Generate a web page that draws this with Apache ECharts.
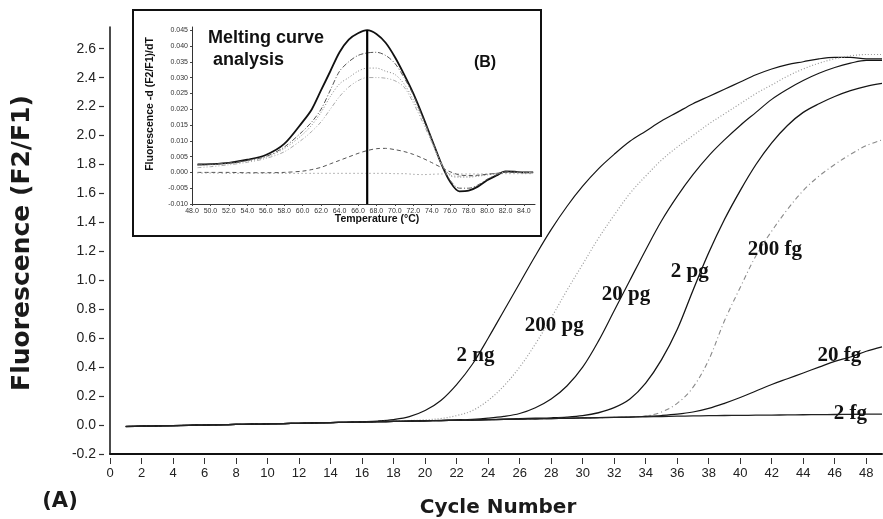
<!DOCTYPE html>
<html><head><meta charset="utf-8">
<script src="https://cdn.jsdelivr.net/npm/echarts@6/dist/echarts.min.js"></script>
<style>html,body{margin:0;padding:0;background:#fff}#c{width:883px;height:519px}</style>
</head><body><div id="c"></div><script>
// ---------- main amplification plot data ----------
const cycles = [1,2,3,4,5,6,7,8,9,10,11,12,13,14,15,16,17,18,19,20,21,22,23,24,25,26,27,28,29,30,31,32,33,34,35,36,37,38,39,40,41,42,43,44,45,46,47,48,49];
const s2ng  = [-0.010,-0.008,-0.006,-0.004,-0.002,0.000,0.002,0.004,0.006,0.008,0.010,0.012,0.015,0.017,0.019,0.023,0.028,0.038,0.058,0.10,0.17,0.28,0.42,0.60,0.79,0.98,1.17,1.35,1.51,1.65,1.77,1.87,1.96,2.03,2.10,2.16,2.22,2.27,2.32,2.37,2.42,2.46,2.49,2.51,2.53,2.54,2.54,2.53,2.53];
const s200pg= [-0.010,-0.008,-0.006,-0.004,-0.002,0.000,0.002,0.004,0.006,0.008,0.010,0.012,0.015,0.017,0.019,0.021,0.024,0.027,0.031,0.036,0.045,0.065,0.10,0.17,0.27,0.40,0.56,0.74,0.93,1.11,1.29,1.45,1.60,1.72,1.83,1.92,2.00,2.08,2.15,2.22,2.29,2.35,2.41,2.46,2.50,2.53,2.55,2.56,2.56];
const s20pg = [-0.010,-0.008,-0.006,-0.004,-0.002,0.000,0.002,0.004,0.006,0.008,0.010,0.012,0.015,0.017,0.019,0.021,0.023,0.025,0.027,0.030,0.033,0.036,0.040,0.048,0.06,0.08,0.12,0.18,0.27,0.40,0.58,0.79,1.00,1.21,1.41,1.58,1.73,1.86,1.97,2.07,2.16,2.25,2.32,2.38,2.43,2.47,2.50,2.52,2.52];
const s2pg  = [-0.010,-0.008,-0.006,-0.004,-0.002,0.000,0.002,0.004,0.006,0.008,0.010,0.012,0.015,0.017,0.019,0.021,0.023,0.025,0.027,0.029,0.031,0.033,0.035,0.038,0.041,0.044,0.047,0.050,0.055,0.065,0.085,0.12,0.18,0.29,0.45,0.66,0.93,1.19,1.42,1.62,1.80,1.95,2.07,2.16,2.22,2.27,2.31,2.34,2.36];
const s200fg= [-0.010,-0.008,-0.006,-0.004,-0.002,0.000,0.002,0.004,0.006,0.008,0.010,0.012,0.015,0.017,0.019,0.021,0.023,0.025,0.027,0.029,0.031,0.033,0.035,0.037,0.039,0.041,0.043,0.045,0.047,0.049,0.051,0.053,0.056,0.062,0.09,0.15,0.26,0.45,0.72,0.95,1.17,1.34,1.49,1.62,1.72,1.80,1.87,1.93,1.97];
const s20fg = [-0.010,-0.008,-0.006,-0.004,-0.002,0.000,0.002,0.004,0.006,0.008,0.010,0.012,0.015,0.017,0.019,0.021,0.023,0.025,0.027,0.029,0.031,0.033,0.035,0.037,0.039,0.041,0.043,0.045,0.047,0.049,0.051,0.053,0.055,0.060,0.066,0.075,0.09,0.115,0.15,0.19,0.235,0.28,0.32,0.36,0.40,0.44,0.47,0.51,0.54];
const s2fg  = [-0.010,-0.008,-0.006,-0.004,-0.002,0.000,0.002,0.004,0.006,0.008,0.010,0.012,0.015,0.017,0.019,0.021,0.023,0.025,0.027,0.029,0.031,0.033,0.035,0.037,0.039,0.041,0.043,0.045,0.047,0.049,0.051,0.053,0.055,0.057,0.059,0.061,0.063,0.065,0.066,0.067,0.068,0.069,0.070,0.071,0.072,0.073,0.074,0.075,0.076];
const sampleNames = ['2 ng','200 pg','20 pg','2 pg','200 fg','20 fg','2 fg'];
// label anchor (cycle, fluorescence) for each sample name
const labelCycle = [23.2, 28.2, 32.75, 36.8, 42.2, 46.3, 47.0];
const labelValue = [0.48, 0.684, 0.90, 1.06, 1.21, 0.48, 0.076];
const xTicks = [0,2,4,6,8,10,12,14,16,18,20,22,24,26,28,30,32,34,36,38,40,42,44,46,48];
const yTicks = [-0.2,0,0.2,0.4,0.6,0.8,1.0,1.2,1.4,1.6,1.8,2.0,2.2,2.4,2.6];

// ---------- inset melting curve data ----------
const meltTemps = [48.6,50,52,54,56,58,60,61,62,63,64,65,66,67,68,69,70,71,72,73,74,75,76,77,78,79,80,81,82,83,84,85];
const meltA = [0.0025,0.0026,0.0030,0.0040,0.0055,0.0090,0.0160,0.0200,0.0260,0.0320,0.0380,0.0420,0.0440,0.0450,0.0438,0.0410,0.0365,0.0310,0.0250,0.0180,0.0105,0.0030,-0.0030,-0.0060,-0.0058,-0.0045,-0.0025,-0.0010,0.0003,0.0002,0.0000,0.0000];
const meltB = [0.0025,0.0026,0.0030,0.0038,0.0050,0.0080,0.0130,0.0160,0.0200,0.0260,0.0320,0.0350,0.0370,0.0378,0.0380,0.0370,0.0345,0.0300,0.0245,0.0175,0.0105,0.0030,-0.0025,-0.0050,-0.0050,-0.0040,-0.0022,-0.0008,0.0002,0.0001,0,0];
const meltC = [0.0022,0.0024,0.0028,0.0036,0.0048,0.0075,0.0120,0.0150,0.0190,0.0240,0.0280,0.0300,0.0320,0.0330,0.0330,0.0320,0.0310,0.0280,0.0230,0.0170,0.0100,0.0030,-0.0010,-0.0015,-0.0015,-0.0012,-0.0008,-0.0004,0,0,0,0];
const meltD = [0.0015,0.0018,0.0024,0.0032,0.0044,0.0065,0.0105,0.0130,0.0160,0.0200,0.0240,0.0270,0.0290,0.0300,0.0300,0.0298,0.0290,0.0270,0.0220,0.0160,0.0095,0.0030,-0.0008,-0.0012,-0.0012,-0.0010,-0.0006,-0.0003,0,0,0,0];
const meltE = [0,0,0,-0.0001,-0.0001,0,0.0004,0.0009,0.0016,0.0027,0.0038,0.0049,0.0060,0.0069,0.0075,0.0076,0.0072,0.0066,0.0057,0.0045,0.0031,0.0016,0.0002,-0.0008,-0.0010,-0.0009,-0.0006,-0.0003,0,0,0,0];
const meltF = [-0.0002,-0.0002,-0.0003,-0.0003,-0.0003,-0.0003,-0.0003,-0.0003,-0.0003,-0.0003,-0.0003,-0.0003,-0.0003,-0.0003,-0.0003,-0.0003,-0.0004,-0.0004,-0.0006,-0.0007,-0.0006,-0.0005,-0.0005,-0.0005,-0.0005,-0.0005,-0.0005,-0.0004,-0.0004,-0.0004,-0.0004,-0.0004];
const meltPeakTemp = 67;
const meltXTicks = [48,50,52,54,56,58,60,62,64,66,68,70,72,74,76,78,80,82,84];
const meltYTicks = [-0.010,-0.005,0.000,0.005,0.010,0.015,0.020,0.025,0.030,0.035,0.040,0.045];

// ---------- styles ----------
const SANS = '"Liberation Sans", Arial, sans-serif';
const NARROW = '"Liberation Sans Narrow", "Liberation Sans", Arial, sans-serif';
const WIDE = '"DejaVu Sans", sans-serif';
const SERIF = '"Liberation Serif", "Times New Roman", serif';
const mainStyles = [
  {color:'#151515', width:1.2, type:'solid'},
  {color:'#9a9a9a', width:1.2, type:[1,2]},
  {color:'#151515', width:1.2, type:'solid'},
  {color:'#151515', width:1.3, type:'solid'},
  {color:'#8a8a8a', width:1.1, type:[5,3,1,3]},
  {color:'#151515', width:1.2, type:'solid'},
  {color:'#222222', width:1.3, type:'solid'}
];
const mainData = [s2ng, s200pg, s20pg, s2pg, s200fg, s20fg, s2fg];
const meltData = [meltA, meltB, meltC, meltD, meltE, meltF];
const meltStyles = [
  {color:'#111', width:1.8, type:'solid'},
  {color:'#555', width:1, type:[5,2,1,2]},
  {color:'#888', width:1, type:[1,2]},
  {color:'#aaa', width:1, type:[4,2,1,2,1,2]},
  {color:'#555', width:1, type:[4,3]},
  {color:'#777', width:1, type:[1,3]}
];

const pair = (xs, ys) => xs.map((x, i) => [x, ys[i]]);

const series = [];
mainData.forEach((vals, i) => {
  series.push({
    type:'line', name: sampleNames[i], xAxisIndex:0, yAxisIndex:0,
    data: pair(cycles, vals), showSymbol:false, smooth:0.35, z:2,
    lineStyle: mainStyles[i],
    markPoint: {
      symbol:'circle', symbolSize:0, silent:true,
      itemStyle:{color:'rgba(0,0,0,0)'},
      label:{show:true, position:'inside', formatter: sampleNames[i],
             fontFamily: SERIF, fontWeight:'bold', fontSize:21, color:'#111'},
      data:[{coord:[labelCycle[i], labelValue[i]]}]
    }
  });
});
meltData.forEach((vals, i) => {
  series.push({
    type:'line', xAxisIndex:2, yAxisIndex:2, data: pair(meltTemps, vals),
    showSymbol:false, smooth:0.3, z:12, lineStyle: meltStyles[i]
  });
});
const peakVal = meltA[meltTemps.indexOf(meltPeakTemp)];
series.push({
  type:'line', xAxisIndex:2, yAxisIndex:2, z:13, showSymbol:false,
  data:[[meltPeakTemp, meltYTicks[0]],[meltPeakTemp, peakVal]],
  lineStyle:{color:'#000', width:2.2}
});

const chart = echarts.init(document.getElementById('c'), null, {renderer:'canvas'});
chart.setOption({
  animation:false,
  backgroundColor:'#fff',
  grid:[
    {left:110, right:1, top:27, bottom:65},
    {left:192, top:27, width:343, height:177}
  ],
  xAxis:[
    {gridIndex:0, type:'value', min:0, max:49, position:'bottom',
     axisLine:{show:true, onZero:false, lineStyle:{color:'#111', width:2}},
     axisTick:{show:false}, axisLabel:{show:false}, splitLine:{show:false}},
    {gridIndex:0, type:'value', min:0, max:49, position:'bottom', offset:4,
     axisLine:{show:false, onZero:false},
     axisTick:{show:true, length:6, customValues:xTicks, lineStyle:{color:'#333', width:1}},
     axisLabel:{customValues:xTicks, margin:9, fontSize:13, fontFamily:NARROW, color:'#222'},
     splitLine:{show:false}},
    {gridIndex:1, type:'value', min:48, max:85.2, position:'bottom', z:11,
     axisLine:{show:true, onZero:false, lineStyle:{color:'#333', width:1}},
     axisTick:{show:true, length:2, customValues:meltXTicks, lineStyle:{color:'#444'}},
     axisLabel:{customValues:meltXTicks, formatter:v=>v.toFixed(1), margin:4, fontSize:7, fontFamily:SANS, color:'#333'},
     splitLine:{show:false}}
  ],
  yAxis:[
    {gridIndex:0, type:'value', min:-0.2, max:2.75, position:'left',
     axisLine:{show:true, onZero:false, lineStyle:{color:'#111', width:1.5}},
     axisTick:{show:false}, axisLabel:{show:false}, splitLine:{show:false}},
    {gridIndex:0, type:'value', min:-0.2, max:2.75, position:'left', offset:6,
     axisLine:{show:false, onZero:false},
     axisTick:{show:true, length:5, customValues:yTicks, lineStyle:{color:'#333', width:1.2}},
     axisLabel:{customValues:yTicks, formatter:v=>v.toFixed(1), margin:8, fontSize:14, fontFamily:SANS, color:'#222'},
     splitLine:{show:false}},
    {gridIndex:1, type:'value', min:-0.010, max:0.046, position:'left', z:11,
     axisLine:{show:true, onZero:false, lineStyle:{color:'#333', width:1}},
     axisTick:{show:true, length:2, customValues:meltYTicks, lineStyle:{color:'#444'}},
     axisLabel:{customValues:meltYTicks, formatter:v=>v.toFixed(3), margin:4, fontSize:7, fontFamily:SANS, color:'#333'},
     splitLine:{show:false}}
  ],
  graphic:[
    {type:'rect', z:10, shape:{x:133, y:10, width:408, height:226},
     style:{fill:'#fff', stroke:'#111', lineWidth:2}},
    {type:'text', z:14, x:208, y:38, style:{text:'Melting curve', fontFamily:SANS, fontWeight:'bold', fontSize:18, fill:'#111', align:'left', verticalAlign:'middle'}},
    {type:'text', z:14, x:213, y:60, style:{text:'analysis', fontFamily:SANS, fontWeight:'bold', fontSize:18, fill:'#111', align:'left', verticalAlign:'middle'}},
    {type:'text', z:14, x:485, y:63, style:{text:'(B)', fontFamily:SANS, fontWeight:'bold', fontSize:16, fill:'#111', align:'center', verticalAlign:'middle'}},
    {type:'text', z:14, x:150, y:104, rotation:Math.PI/2, style:{text:'Fluorescence -d (F2/F1)/dT', fontFamily:SANS, fontWeight:'bold', fontSize:10.5, fill:'#111', align:'center', verticalAlign:'middle'}},
    {type:'text', z:14, x:377, y:219, style:{text:'Temperature (°C)', fontFamily:SANS, fontWeight:'bold', fontSize:10.5, fill:'#111', align:'center', verticalAlign:'middle'}},
    {type:'text', z:14, x:22, y:243, rotation:Math.PI/2, style:{text:'Fluorescence (F2/F1)', fontFamily:WIDE, fontWeight:'bold', fontSize:25, fill:'#1a1a1a', align:'center', verticalAlign:'middle'}},
    {type:'text', z:14, x:498, y:508, style:{text:'Cycle Number', fontFamily:WIDE, fontWeight:'bold', fontSize:20, fill:'#1a1a1a', align:'center', verticalAlign:'middle'}},
    {type:'text', z:14, x:60, y:502, style:{text:'(A)', fontFamily:WIDE, fontWeight:'bold', fontSize:21, fill:'#1a1a1a', align:'center', verticalAlign:'middle'}}
  ],
  series: series
});
</script></body></html>
